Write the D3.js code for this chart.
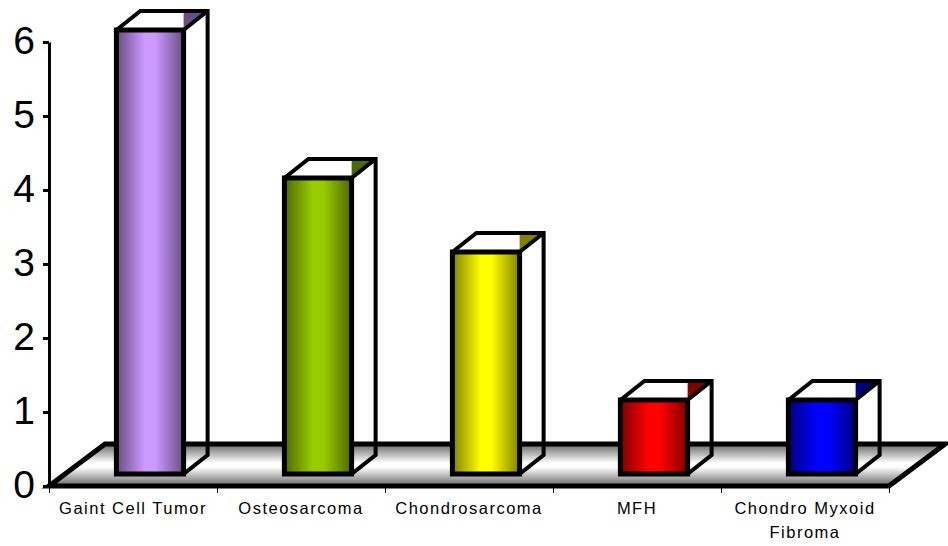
<!DOCTYPE html>
<html>
<head>
<meta charset="utf-8">
<script src="https://cdn.jsdelivr.net/npm/d3@7/dist/d3.min.js"></script>
<style>
  html, body { margin: 0; padding: 0; background: #fff; }
  svg { display: block; }
  text { font-family: "Liberation Sans", Arial, sans-serif; fill: #000; }
</style>
</head>
<body>
<svg id="chart"></svg>
<script>
var categories = ['Gaint Cell Tumor', 'Osteosarcoma', 'Chondrosarcoma', 'MFH', 'Chondro Myxoid|Fibroma'];
var values = [6, 4, 3, 1, 1];
var barColors = ['#cc99ff', '#99cc00', '#ffff00', '#ff0000', '#0000ff'];
var yTicks = [0, 1, 2, 3, 4, 5, 6];

var width = 948, height = 546;
var plotLeft = 49, plotRight = 889, plotTop = 42, plotBottom = 486;
// the 3d box is drawn shifted: front face up from the floor edge, back face further away
var frontLift = 12, frontShift = 17, depthX = 24, depthY = 19, floorX = 56, floorY = 42;

var svg = d3.select('#chart').attr('width', width).attr('height', height);

var x = d3.scaleBand().domain(categories).range([plotLeft, plotRight]).paddingInner(0.6).paddingOuter(0.3);
var xTickScale = d3.scaleBand().domain(categories).range([plotLeft, plotRight]);
var y = d3.scaleLinear().domain([0, 6]).range([plotBottom, plotTop]);

var defs = svg.append('defs');

var floorGrad = defs.append('linearGradient').attr('id', 'floorGrad')
  .attr('x1', 0).attr('y1', 0).attr('x2', 0).attr('y2', 1);
floorGrad.append('stop').attr('offset', '0%').attr('stop-color', '#666666');
floorGrad.append('stop').attr('offset', '45%').attr('stop-color', '#ffffff');
floorGrad.append('stop').attr('offset', '55%').attr('stop-color', '#ffffff');
floorGrad.append('stop').attr('offset', '100%').attr('stop-color', '#666666');

barColors.forEach(function(c, i) {
  var dark = d3.rgb(c).darker(1.9).formatHex();
  var g = defs.append('linearGradient').attr('id', 'barGrad' + i)
    .attr('x1', 0).attr('y1', 0).attr('x2', 1).attr('y2', 0);
  g.append('stop').attr('offset', '0%').attr('stop-color', dark);
  g.append('stop').attr('offset', '42%').attr('stop-color', c);
  g.append('stop').attr('offset', '58%').attr('stop-color', c);
  g.append('stop').attr('offset', '100%').attr('stop-color', dark);
});

// floor
var line = d3.line();
svg.append('path')
  .attr('d', line([[plotLeft, plotBottom], [plotRight, plotBottom], [plotRight + floorX, plotBottom - floorY], [plotLeft + floorX, plotBottom - floorY]]) + 'Z')
  .attr('fill', 'url(#floorGrad)')
  .attr('stroke', '#000')
  .attr('stroke-width', 5)
  .attr('stroke-linejoin', 'miter');

// y axis
var yAxis = svg.append('g')
  .attr('transform', 'translate(' + plotLeft + ',0)')
  .call(d3.axisLeft(y).tickValues(yTicks).tickFormat(d3.format('d')).tickSize(6).tickPadding(8).tickSizeOuter(0));
yAxis.selectAll('path').attr('stroke', '#000').attr('stroke-width', 3);
yAxis.selectAll('line').attr('stroke', '#000').attr('stroke-width', 3);
yAxis.selectAll('text').attr('font-size', 39).attr('dy', '0.3em').style('font-family', '"Liberation Sans", Arial, sans-serif');

// x axis ticks at band edges
var xEdges = categories.map(function(c) { return xTickScale(c); }).concat([plotRight]);
var xAxisScale = d3.scaleLinear().domain([plotLeft, plotRight]).range([plotLeft, plotRight]);
var xAxis = svg.append('g')
  .attr('transform', 'translate(0,' + plotBottom + ')')
  .call(d3.axisBottom(xAxisScale).tickValues(xEdges).tickFormat('').tickSize(7));
xAxis.select('path').remove();
xAxis.selectAll('line').attr('stroke', '#000').attr('stroke-width', 1);

// category labels
categories.forEach(function(c) {
  var cx = xTickScale(c) + xTickScale.bandwidth() / 2;
  c.split('|').forEach(function(part, k) {
    svg.append('text')
      .attr('x', cx)
      .attr('y', 514 + k * 24)
      .attr('text-anchor', 'middle')
      .attr('font-size', 16.5)
      .attr('letter-spacing', 1.5)
      .text(part);
  });
});

// bars
categories.forEach(function(c, i) {
  var bw = x.bandwidth();
  var x0 = x(c) + frontShift;
  var x1 = x0 + bw;
  var yBase = plotBottom - frontLift;
  var yTop = y(values[i]) - frontLift;
  var g = svg.append('g');

  // small shaded triangle at the back corner of the top
  g.append('path')
    .attr('d', line([[x1, yTop - depthY], [x1 + depthX, yTop - depthY], [x1, yTop]]) + 'Z')
    .attr('fill', d3.rgb(barColors[i]).darker(1.9).formatHex());

  // side and top outline
  g.append('path')
    .attr('d', line([[x0, yTop], [x0 + depthX, yTop - depthY], [x1 + depthX, yTop - depthY], [x1 + depthX, yBase - depthY], [x1, yBase]]))
    .attr('fill', 'none').attr('stroke', '#000').attr('stroke-width', 4);
  g.append('path')
    .attr('d', line([[x1, yTop], [x1 + depthX, yTop - depthY]]))
    .attr('fill', 'none').attr('stroke', '#000').attr('stroke-width', 4);

  // front
  g.append('rect')
    .attr('x', x0)
    .attr('y', yTop)
    .attr('width', bw)
    .attr('height', yBase - yTop)
    .attr('fill', 'url(#barGrad' + i + ')')
    .attr('stroke', '#000')
    .attr('stroke-width', 5);
});
</script>
</body>
</html>
